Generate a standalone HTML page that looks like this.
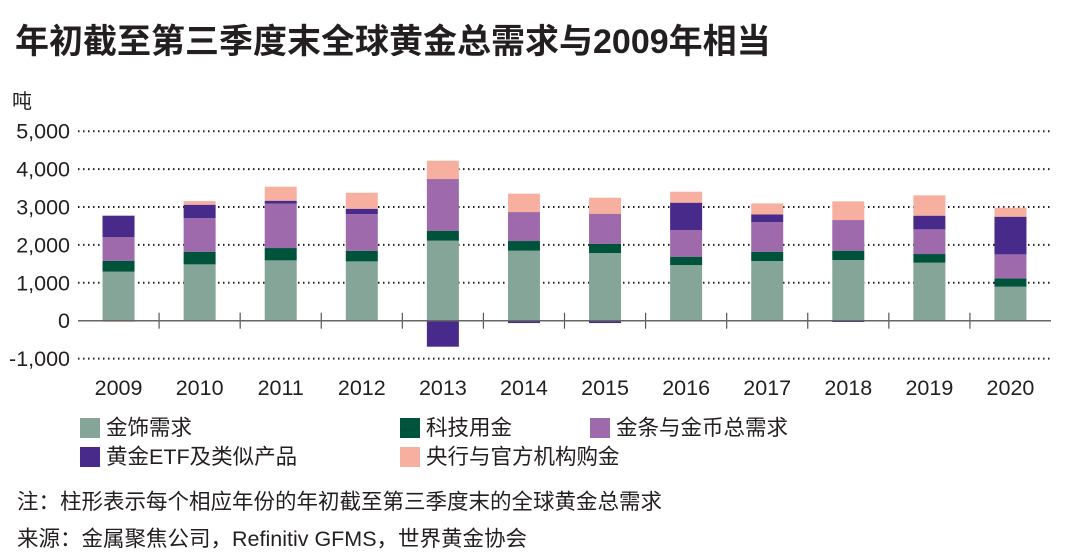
<!DOCTYPE html>
<html><head><meta charset="utf-8">
<style>
body{margin:0;background:#fff;width:1065px;height:558px;overflow:hidden;font-family:"Liberation Sans","Noto Sans CJK SC",sans-serif;color:#231f20}
#title{position:absolute;left:15px;top:22px;font-size:34px;font-weight:bold;line-height:40px;white-space:nowrap}
.leg{position:absolute;font-size:21.5px;height:24px;line-height:24px;white-space:nowrap}
.sw{position:absolute;width:20px;height:20px}
.note{position:absolute;left:17px;font-size:21.5px;white-space:nowrap}
</style></head><body>
<div id="title">年初截至第三季度末全球黄金总需求与2009年相当</div>
<svg id="chart" width="1065" height="410" style="position:absolute;left:0;top:0"></svg>
<div class="sw" style="left:80px;top:418px;background:#84a597"></div>
<div class="leg" style="left:106px;top:416px">金饰需求</div>
<div class="sw" style="left:400px;top:418px;background:#00533b"></div>
<div class="leg" style="left:426px;top:416px">科技用金</div>
<div class="sw" style="left:590px;top:418px;background:#9e6aab"></div>
<div class="leg" style="left:616px;top:416px">金条与金币总需求</div>
<div class="sw" style="left:80px;top:447px;background:#472a8a"></div>
<div class="leg" style="left:106px;top:445px">黄金ETF及类似产品</div>
<div class="sw" style="left:400px;top:447px;background:#f7b0a0"></div>
<div class="leg" style="left:426px;top:445px">央行与官方机构购金</div>
<div class="note" style="top:485px">注：柱形表示每个相应年份的年初截至第三季度末的全球黄金总需求</div>
<div class="note" style="top:522px">来源：金属聚焦公司，Refinitiv GFMS，世界黄金协会</div>
<script>
const categories=["2009","2010","2011","2012","2013","2014","2015","2016","2017","2018","2019","2020"];
const jewelry=[1293,1486,1592,1565,2111,1847,1785,1469,1574,1601,1530,897];
const technology=[290,334,325,281,264,255,246,220,246,246,229,220];
const barCoin=[625,888,1170,967,1363,765,792,704,783,809,651,633];
const etf=[563,352,79,141,-686,-62,-62,721,202,-35,361,994];
const centralBanks=[-30,97,369,422,484,484,422,290,290,493,536,237];
const yTicks=[-1000,0,1000,2000,3000,4000,5000];
const yTickLabels=["-1,000","0","1,000","2,000","3,000","4,000","5,000"];
const series=[jewelry,technology,barCoin,etf,centralBanks];
const seriesNames=["jewelry","technology","bar-coin","etf","central-banks"];
const colors=["#84a597","#00533b","#9e6aab","#472a8a","#f7b0a0"];
const NS="http://www.w3.org/2000/svg";
const svg=document.getElementById('chart');
const L=78,R=1051,Y0=320.7,PER=37.9/1000;
const y=v=>Y0-v*PER;
const bw=(R-L)/categories.length;
const xc=i=>L+bw*(i+0.5);
function mk(t,a){const e=document.createElementNS(NS,t);for(const k in a)e.setAttribute(k,a[k]);svg.appendChild(e);return e;}
yTicks.forEach((t,i)=>{
  if(t!==0){const g=mk('line',{x1:L,x2:R,y1:y(t),y2:y(t),stroke:'#231f20','stroke-width':2,'stroke-dasharray':'1.5 3.5'});
  
  }
  const tx=mk('text',{x:70,y:y(t)+7.5,'text-anchor':'end','font-size':21.5,fill:'#231f20'});
  tx.textContent=yTickLabels[i];
  
  
});
const yt=mk('text',{x:12,y:108,'font-size':20,fill:'#231f20'});
yt.textContent='吨';


categories.forEach((c,i)=>{
  let pos=0,neg=0;
  series.forEach((s,k)=>{
    const v=s[i];let top,bot;
    if(v>=0){bot=pos;pos+=v;top=pos;}else{top=neg;neg+=v;bot=neg;}
    const r=mk('rect',{x:xc(i)-16,y:y(top),width:32,height:Math.max(0,y(bot)-y(top)),fill:colors[k]});
    
    
  });
  const tx=mk('text',{x:xc(i),y:395,'text-anchor':'middle','font-size':21.5,fill:'#231f20'});
  tx.textContent=c;
  
  
  if(i>0){const tk=mk('line',{x1:L+bw*i,x2:L+bw*i,y1:y(0)-8,y2:y(0)+8,stroke:'#555','stroke-width':1.2});
  
  }
});
const ax=mk('line',{x1:L,x2:R,y1:y(0),y2:y(0),stroke:'#666','stroke-width':1.5});


</script>
</body></html>
